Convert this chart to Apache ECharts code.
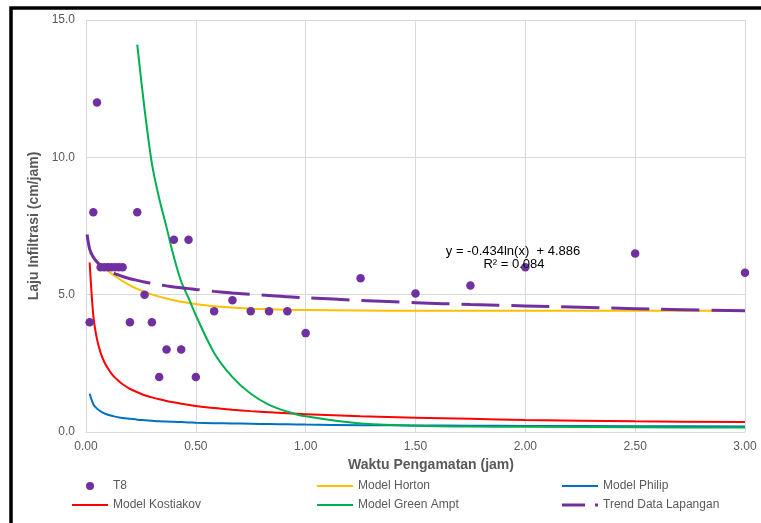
<!DOCTYPE html>
<html>
<head>
<meta charset="utf-8">
<script src="https://cdn.jsdelivr.net/npm/echarts@6/dist/echarts.min.js"></script>
<style>
  html, body { margin: 0; padding: 0; background: #fff; }
  #chart { width: 761px; height: 523px; }
</style>
</head>
<body>
<div id="chart"></div>
<script>
// Observation times (hours) shared by the field data and the model curves
const timeJam = [0.0167, 0.0333, 0.05, 0.0667, 0.0833, 0.1, 0.1167, 0.1333, 0.15, 0.1667,
  0.2, 0.2333, 0.2667, 0.3, 0.3333, 0.3667, 0.4, 0.4333, 0.4667, 0.5,
  0.5833, 0.6667, 0.75, 0.8333, 0.9167, 1.0, 1.25, 1.5, 1.75, 2.0, 2.5, 3.0];

// Measured infiltration rate at point T8 (cm/jam)
const lajuT8 = [4, 8, 12, 6, 6, 6, 6, 6, 6, 6,
  4, 8, 5, 4, 2, 3, 7, 3, 7, 2,
  4.4, 4.8, 4.4, 4.4, 4.4, 3.6, 5.6, 5.04, 5.33, 6.0, 6.5, 5.8];

// Model curves (cm/jam)
const modelHorton = [6.53, 6.37, 6.23, 6.10, 5.98, 5.87, 5.76, 5.67, 5.58, 5.49,
  5.34, 5.21, 5.10, 5.01, 4.93, 4.86, 4.80, 4.74, 4.70, 4.66,
  4.58, 4.53, 4.49, 4.47, 4.45, 4.44, 4.42, 4.41, 4.41, 4.41, 4.41, 4.41];
const modelPhilip = [1.39, 1.01, 0.85, 0.75, 0.68, 0.63, 0.59, 0.56, 0.53, 0.51,
  0.48, 0.45, 0.43, 0.41, 0.39, 0.38, 0.37, 0.36, 0.35, 0.34,
  0.32, 0.31, 0.30, 0.29, 0.28, 0.27, 0.25, 0.24, 0.23, 0.22, 0.21, 0.20];
const modelKostiakov = [6.17, 4.24, 3.38, 2.88, 2.55, 2.31, 2.12, 1.97, 1.85, 1.74,
  1.57, 1.45, 1.34, 1.26, 1.19, 1.13, 1.08, 1.03, 0.99, 0.95,
  0.87, 0.81, 0.76, 0.72, 0.68, 0.65, 0.57, 0.52, 0.48, 0.44, 0.39, 0.36];
const modelGreenAmpt = [null, null, null, null, null, null, null, null, null, null,
  null, 14.1, 11.75, 9.77, 8.5, 7.45, 6.37, 5.48, 4.88, 4.25,
  2.88, 2.0, 1.39, 0.99, 0.74, 0.57, 0.31, 0.23, 0.2, 0.19, 0.17, 0.16];

// Logarithmic trend of the field data: y = -0.434ln(x) + 4.886
const trendX = [0.005, 0.0167, 0.0333, 0.05, 0.0667, 0.0833, 0.1, 0.1167, 0.1333, 0.15, 0.1667,
  0.2, 0.2333, 0.2667, 0.3, 0.3333, 0.3667, 0.4, 0.4333, 0.4667, 0.5,
  0.5833, 0.6667, 0.75, 0.8333, 0.9167, 1.0, 1.25, 1.5, 1.75, 2.0, 2.5, 3.0];
const trendY = [7.19, 6.66, 6.36, 6.19, 6.06, 5.96, 5.89, 5.82, 5.76, 5.71, 5.66,
  5.58, 5.52, 5.46, 5.41, 5.36, 5.32, 5.28, 5.25, 5.22, 5.19,
  5.12, 5.06, 5.01, 4.97, 4.92, 4.89, 4.79, 4.71, 4.64, 4.59, 4.49, 4.41];
const trendLabel = ['y = -0.434ln(x)  + 4.886', 'R² = 0.084'];

const xTicks = { min: 0, max: 3, step: 0.5 };
const yTicks = { min: 0, max: 15, step: 5 };

const pairs = (xs, ys) => xs.map((x, i) => [x, ys[i]]).filter(p => p[1] !== null);

const FONT = '"Liberation Sans", Arial, sans-serif';
const GREY = '#595959';

const chart = echarts.init(document.getElementById('chart'), null, { renderer: 'canvas' });

// One legend block per entry so the three columns line up exactly
function legendAt(name, left, top, extra) {
  return Object.assign({
    data: [name],
    left: left, top: top, padding: 0,
    itemWidth: 36, itemHeight: 2, itemGap: 0,
    icon: 'rect',
    textStyle: { color: GREY, fontSize: 12, fontFamily: FONT },
    selectedMode: false
  }, extra || {});
}

const lineSeries = (name, data, color, z) => ({
  name: name, type: 'line', data: data,
  symbol: 'none', smooth: 0.3,
  lineStyle: { color: color, width: 2 }, itemStyle: { color: color },
  z: z, silent: true, animation: false
});

chart.setOption({
  animation: false,
  backgroundColor: '#ffffff',
  grid: { left: 86, right: 16, top: 20, bottom: 91, containLabel: false },
  xAxis: {
    type: 'value', min: xTicks.min, max: xTicks.max, interval: xTicks.step,
    name: 'Waktu Pengamatan (jam)', nameLocation: 'middle', nameGap: 23,
    nameTextStyle: { color: GREY, fontSize: 14, fontWeight: 'bold', fontFamily: FONT, padding: [0, 0, 0, 31] },
    axisLine: { lineStyle: { color: '#d9d9d9', width: 1 } },
    axisTick: { show: false },
    axisLabel: { color: GREY, fontSize: 12, fontFamily: FONT, margin: 9, formatter: v => v.toFixed(2) },
    splitLine: { lineStyle: { color: '#d9d9d9', width: 1 } }
  },
  yAxis: {
    type: 'value', min: yTicks.min, max: yTicks.max, interval: yTicks.step,
    name: 'Laju Infiltrasi (cm/jam)', nameLocation: 'middle', nameGap: 41,
    nameTextStyle: { color: GREY, fontSize: 14, fontWeight: 'bold', fontFamily: FONT },
    axisLine: { show: true, lineStyle: { color: '#d9d9d9', width: 1 } },
    axisTick: { show: false },
    axisLabel: { color: GREY, fontSize: 12, fontFamily: FONT, margin: 11, formatter: v => v.toFixed(1) },
    splitLine: { lineStyle: { color: '#d9d9d9', width: 1 } }
  },
  legend: [
    legendAt('T8', 86, 480, { icon: 'circle', itemHeight: 8 }),
    legendAt('Model Kostiakov', 72, 499),
    legendAt('Model Horton', 317, 480),
    legendAt('Model Green Ampt', 317, 499),
    legendAt('Model Philip', 562, 480),
    legendAt('Trend Data Lapangan', 562, 499, {
      icon: 'path://M0,0H23V3H0Z M33,0H36V3H33Z', itemHeight: 3
    })
  ],
  series: [
    lineSeries('Model Horton', pairs(timeJam, modelHorton), '#FFC000', 2),
    lineSeries('Model Philip', pairs(timeJam, modelPhilip), '#0070C0', 2),
    lineSeries('Model Kostiakov', pairs(timeJam, modelKostiakov), '#FF0000', 2),
    lineSeries('Model Green Ampt', pairs(timeJam, modelGreenAmpt), '#00B050', 2),
    {
      name: 'T8', type: 'scatter', data: pairs(timeJam, lajuT8),
      symbol: 'circle', symbolSize: 8.5,
      itemStyle: { color: '#7030A0', opacity: 1 },
      z: 3, silent: true
    },
    {
      name: 'Trend Data Lapangan', type: 'line', data: pairs(trendX, trendY),
      symbol: 'none', smooth: 0.3,
      lineStyle: { color: '#7030A0', width: 3, type: [38, 12], cap: 'butt' },
      itemStyle: { color: '#7030A0' },
      z: 4, silent: true
    }
  ],
  graphic: [
    {
      type: 'text', x: 513, top: 245, z: 100,
      style: { text: trendLabel[0], fill: '#000', font: '13px ' + FONT, textAlign: 'center' }
    },
    {
      type: 'text', x: 514, top: 258, z: 100,
      style: { text: trendLabel[1], fill: '#000', font: '13px ' + FONT, textAlign: 'center' }
    },
    {
      type: 'rect', z: 200, silent: true,
      shape: { x: 11, y: 8, width: 900, height: 700 },
      style: { fill: 'none', stroke: '#000', lineWidth: 3.5 }
    }
  ]
});
</script>
</body>
</html>
